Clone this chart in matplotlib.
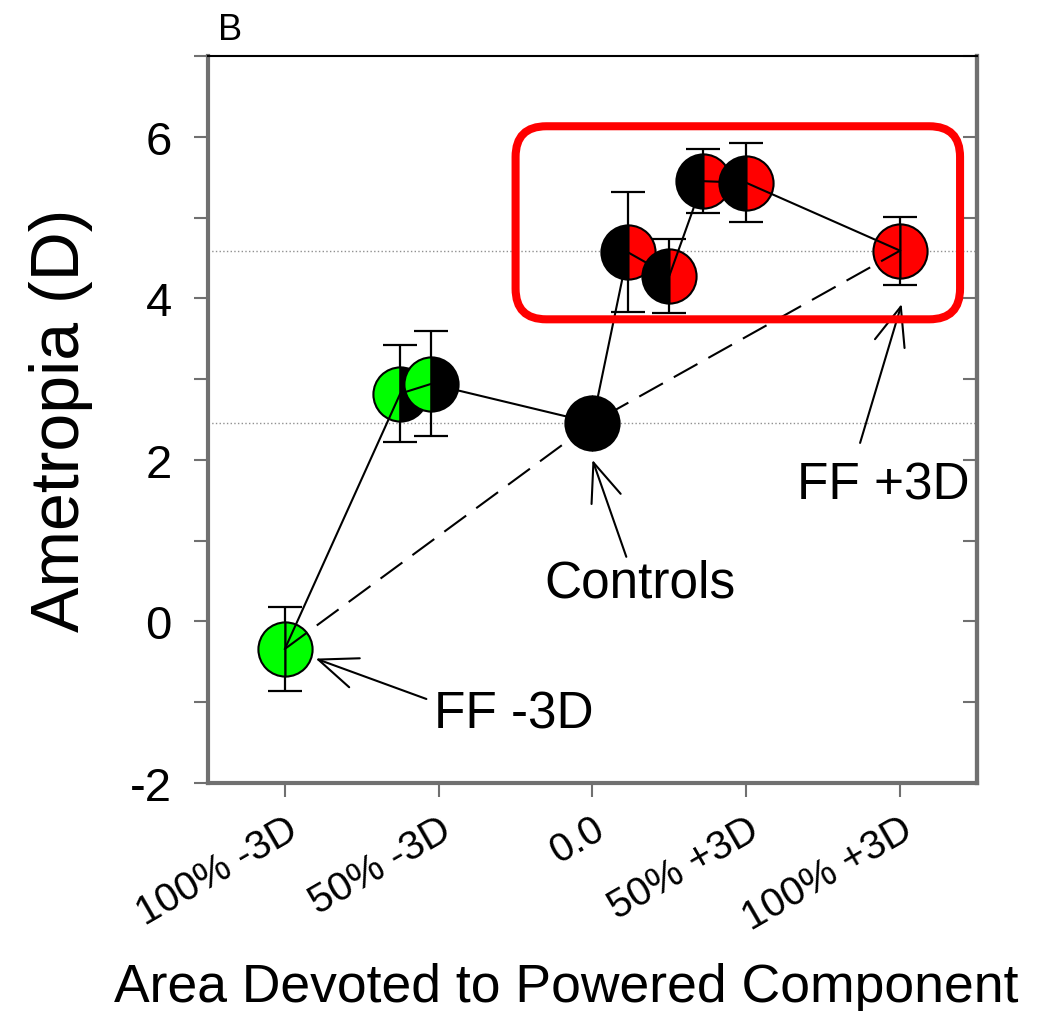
import matplotlib
matplotlib.use("Agg")
import matplotlib.pyplot as plt
from matplotlib.patches import FancyBboxPatch

plt.rcParams['font.family'] = ['Liberation Sans', 'DejaVu Sans']
plt.rcParams['axes.unicode_minus'] = False

# powered component: -2 = 100% -3D ... 0 = none ... 2 = 100% +3D
x_pos = [-2.0, -1.25, -1.05, 0.0, 0.23, 0.50, 0.72, 1.00, 2.00]
ametropia = [-0.34, 2.82, 2.94, 2.46, 4.57, 4.28, 5.45, 5.43, 4.59]
sem = [0.52, 0.60, 0.65, 0.0, 0.74, 0.46, 0.40, 0.49, 0.42]
face_main = ['#00ff00', '#00ff00', '#00ff00', 'black', 'black', 'black', 'black', 'black', 'red']
face_alt = ['#00ff00', 'black', 'black', 'black', 'red', 'red', 'red', 'red', 'red']

tick_pos = [-2, -1, 0, 1, 2]
tick_labels = ['100% -3D', '50% -3D', '0.0', '50% +3D', '100% +3D']

# full-field groups + controls (dashed line)
ff_idx = [0, 3, 8]
ctrl_idx = 3
ffplus_idx = 8

highlight = (-0.50, 3.74, 2.89, 2.39)  # x0, y0, width, height

fig = plt.figure(figsize=(10.43, 10.12), dpi=100)
ax = fig.add_axes([0.1994, 0.2253, 0.7373, 0.7184])

ax.axhline(ametropia[ffplus_idx], color='#909090', ls=':', lw=1.0, zorder=1)
ax.axhline(ametropia[ctrl_idx], color='#909090', ls=':', lw=1.0, zorder=1)

for i in range(len(x_pos)):
    if sem[i] > 0:
        ax.errorbar(x_pos[i], ametropia[i], yerr=sem[i], fmt='none', ecolor='black',
                    elinewidth=1.6, capsize=12, capthick=1.6, zorder=2)
    ax.plot(x_pos[i], ametropia[i], 'o', markersize=39, fillstyle='left',
            markerfacecolor=face_main[i], markerfacecoloralt=face_alt[i],
            markeredgecolor='black', markeredgewidth=1.5, zorder=3 + i * 0.01)

ax.plot(x_pos, ametropia, '-', color='black', lw=1.5, zorder=4)
ax.plot([x_pos[i] for i in ff_idx], [ametropia[i] for i in ff_idx],
        color='black', lw=1.5, ls=(0, (13, 6)), zorder=4)

box = FancyBboxPatch((highlight[0], highlight[1]), highlight[2], highlight[3],
                     boxstyle="round,pad=0,rounding_size=0.2", mutation_aspect=1.9,
                     fill=False, edgecolor='red', lw=5.8, zorder=5)
ax.add_patch(box)

arrow = dict(arrowstyle='->,head_length=0.75,head_width=0.3', color='black', lw=1.5,
             shrinkA=0, shrinkB=0)
ax.text(0.31, 0.47, 'Controls', fontsize=37, ha='center', va='center')
ax.annotate('', xy=(0.0, 2.0), xytext=(0.22, 0.80), arrowprops=arrow, fontsize=37)
ax.text(1.89, 1.69, 'FF +3D', fontsize=37, ha='center', va='center')
ax.annotate('', xy=(2.01, 3.93), xytext=(1.74, 2.21), arrowprops=arrow, fontsize=37)
ax.text(-0.51, -1.14, 'FF -3D', fontsize=37, ha='center', va='center')
ax.annotate('', xy=(-1.80, -0.46), xytext=(-1.08, -0.96), arrowprops=arrow, fontsize=37)

ax.set_xlim(-2.5, 2.5)
ax.set_ylim(-2, 7)
ax.set_xticks(tick_pos)
ax.set_xticklabels(tick_labels, rotation=30, ha='right', rotation_mode='anchor', fontsize=29)
ax.set_yticks([-2, 0, 2, 4, 6])
ax.set_yticks([-1, 1, 3, 5, 7], minor=True)
ax.tick_params(axis='y', labelsize=34, length=10, width=1.5, color='#707070', pad=16)
ax.tick_params(axis='y', which='minor', length=10, width=1.5, color='#707070')
ax.tick_params(axis='x', length=10, width=1.5, color='#707070', pad=9)

# right side ticks pointing inward
sec = ax.secondary_yaxis('right')
sec.set_yticks([-2, -1, 0, 1, 2, 3, 4, 5, 6, 7])
sec.tick_params(direction='in', length=10, width=1.5, color='#707070', labelright=False)
sec.spines['right'].set_color('#707070')
sec.spines['right'].set_linewidth(3)

for s in ['left', 'bottom', 'right']:
    ax.spines[s].set_color('#707070')
    ax.spines[s].set_linewidth(3)
ax.spines['top'].set_linewidth(1.5)

ax.set_ylabel('Ametropia (D)', fontsize=49)
ax.yaxis.set_label_coords(-0.15, 0.50)
ax.set_xlabel('Area Devoted to Powered Component', fontsize=38.5)
ax.xaxis.set_label_coords(0.466, -0.246)

fig.text(0.209, 0.970, 'B', fontsize=26, ha='left', va='center')

fig.savefig('out.png', dpi=100)
